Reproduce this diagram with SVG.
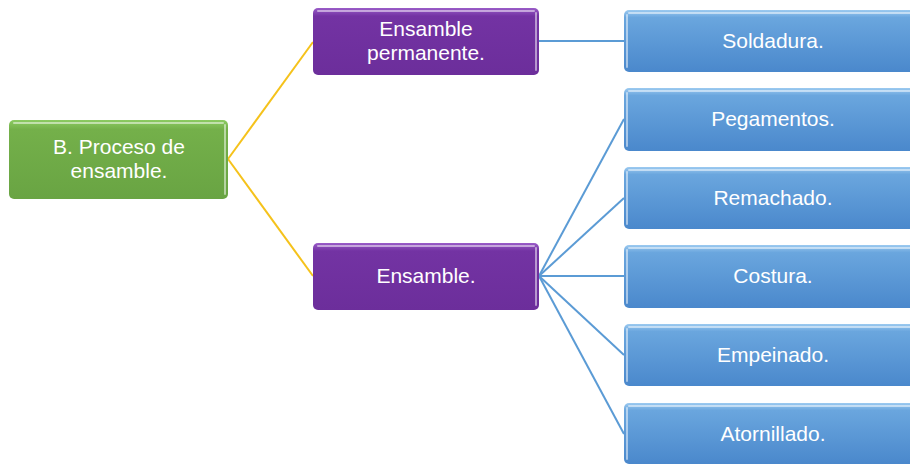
<svg xmlns="http://www.w3.org/2000/svg" width="910" height="464" viewBox="0 0 910 464">
<defs>
<linearGradient id="gGreen" x1="0" y1="0" x2="0" y2="1">
<stop offset="0" stop-color="#8ccb62"/><stop offset="0.12" stop-color="#74b04a"/><stop offset="1" stop-color="#69a443"/>
</linearGradient>
<linearGradient id="gPurple" x1="0" y1="0" x2="0" y2="1">
<stop offset="0" stop-color="#9a5cc8"/><stop offset="0.12" stop-color="#7333a3"/><stop offset="1" stop-color="#6c2e9b"/>
</linearGradient>
<linearGradient id="gBlue" x1="0" y1="0" x2="0" y2="1">
<stop offset="0" stop-color="#9ccaf0"/><stop offset="0.12" stop-color="#6aa6de"/><stop offset="1" stop-color="#4a88cc"/>
</linearGradient>
<style>
.t{font-family:"Liberation Sans",Arial,sans-serif;font-size:21px;fill:#ffffff;text-anchor:middle}
.hl{fill:none;stroke:#ffffff;stroke-opacity:0.5;stroke-width:2;stroke-linecap:round}
.cy{stroke:#f5c21b;stroke-width:2;fill:none}
.cb{stroke:#5b9bd5;stroke-width:2;fill:none}
</style>
</defs>
<g id="connectors">
<line class="cy" x1="228" y1="159" x2="313" y2="42"/>
<line class="cy" x1="228" y1="159" x2="313" y2="276"/>
<line class="cb" x1="539" y1="41" x2="624" y2="41"/>
<line class="cb" x1="539" y1="276" x2="624" y2="119"/>
<line class="cb" x1="539" y1="276" x2="624" y2="198"/>
<line class="cb" x1="539" y1="276" x2="624" y2="276"/>
<line class="cb" x1="539" y1="276" x2="624" y2="355"/>
<line class="cb" x1="539" y1="276" x2="624" y2="434"/>
</g>
<g id="n-root">
<rect x="9" y="120" width="219" height="79" rx="5" fill="url(#gGreen)"/>
<path class="hl" d="M14 123 H223 M225 125 V194"/>
<text class="t" x="119" y="154">B. Proceso de</text>
<text class="t" x="119" y="178">ensamble.</text>
</g>
<g id="n-perm">
<rect x="313" y="8" width="226" height="67" rx="5" fill="url(#gPurple)"/>
<path class="hl" d="M318 11 H534 M536 13 V70"/>
<text class="t" x="426" y="36">Ensamble</text>
<text class="t" x="426" y="60">permanente.</text>
</g>
<g id="n-ens">
<rect x="313" y="243" width="226" height="67" rx="5" fill="url(#gPurple)"/>
<path class="hl" d="M318 246 H534 M536 248 V305"/>
<text class="t" x="426" y="283">Ensamble.</text>
</g>
<g id="n-sold">
<rect x="624" y="10" width="298" height="62" rx="5" fill="url(#gBlue)"/>
<path class="hl" d="M629 13 H920 M627 15 V67"/>
<text class="t" x="773" y="48">Soldadura.</text>
</g>
<g id="n-peg">
<rect x="624" y="88" width="298" height="63" rx="5" fill="url(#gBlue)"/>
<path class="hl" d="M629 91 H920 M627 93 V146"/>
<text class="t" x="773" y="126">Pegamentos.</text>
</g>
<g id="n-rem">
<rect x="624" y="167" width="298" height="62" rx="5" fill="url(#gBlue)"/>
<path class="hl" d="M629 170 H920 M627 172 V224"/>
<text class="t" x="773" y="205">Remachado.</text>
</g>
<g id="n-cos">
<rect x="624" y="245" width="298" height="63" rx="5" fill="url(#gBlue)"/>
<path class="hl" d="M629 248 H920 M627 250 V303"/>
<text class="t" x="773" y="283">Costura.</text>
</g>
<g id="n-emp">
<rect x="624" y="324" width="298" height="62" rx="5" fill="url(#gBlue)"/>
<path class="hl" d="M629 327 H920 M627 329 V381"/>
<text class="t" x="773" y="362">Empeinado.</text>
</g>
<g id="n-ator">
<rect x="624" y="403" width="298" height="61" rx="5" fill="url(#gBlue)"/>
<path class="hl" d="M629 406 H920 M627 408 V459"/>
<text class="t" x="773" y="441">Atornillado.</text>
</g>
</svg>
